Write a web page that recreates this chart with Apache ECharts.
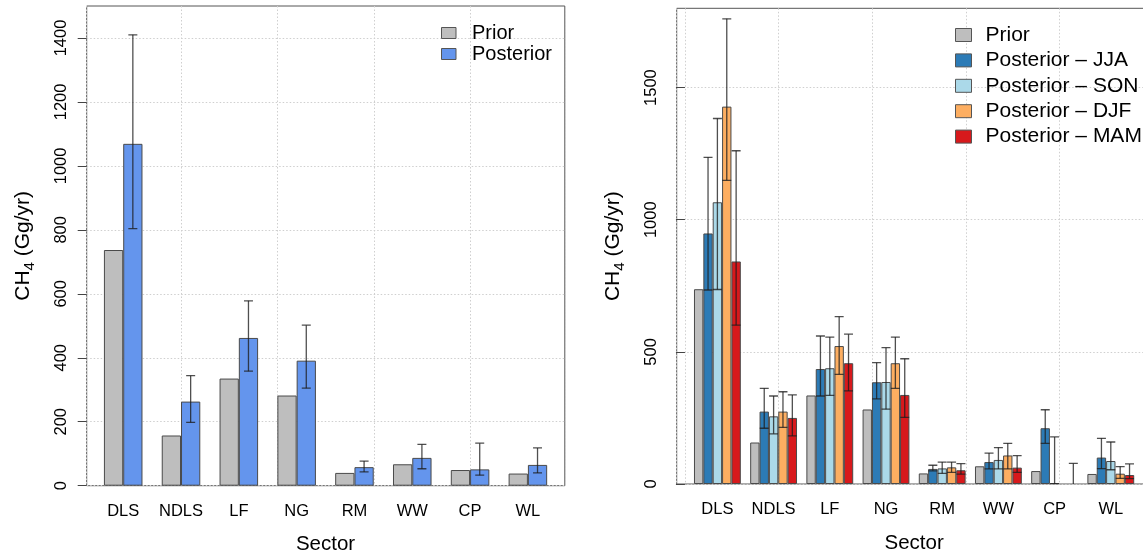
<!DOCTYPE html>
<html>
<head>
<meta charset="utf-8">
<script src="https://cdn.jsdelivr.net/npm/echarts@6/dist/echarts.min.js"></script>
<style>
html,body{margin:0;padding:0;background:#fff;}
#c{width:1143px;height:558px;}
</style>
</head>
<body>
<div id="c"></div>
<script>
// ---------- data ----------
const categories = ['DLS','NDLS','LF','NG','RM','WW','CP','WL'];

// left panel
const prior      = [737, 157, 335, 282, 40, 67, 49, 38];
const posterior  = [1069, 263, 462, 391, 58, 87, 51, 65];
const postLow    = [804, 198, 358, 305, 43, 53, 33, 40];
const postHigh   = [1410, 344, 578, 502, 77, 129, 133, 118];
const leftTicks  = [0, 200, 400, 600, 800, 1000, 1200, 1400];

// right panel
const jja     = [948, 274, 435, 385, 57, 83, 211, 100];
const jjaLow  = [734, 211, 333, 322, 50, 57, 154, 58];
const jjaHigh = [1236, 362, 560, 459, 71, 117, 281, 173];
const son     = [1066, 256, 438, 386, 59, 91, 3, 87];
const sonLow  = [736, 190, 335, 283, 40, 57, 0, 54];
const sonHigh = [1383, 333, 556, 516, 83, 138, 178, 159];
const djf     = [1428, 274, 522, 457, 63, 108, -2, 39];
const djfLow  = [1149, 214, 415, 362, 44, 57, -2, 21];
const djfHigh = [1760, 349, 633, 556, 83, 154, -2, 66];
const mam     = [842, 250, 457, 337, 52, 62, -2, 34];
const mamLow  = [601, 182, 352, 252, 37, 44, -2, 20];
const mamHigh = [1261, 337, 567, 474, 77, 107, 78, 76];
const rightTicks = [0, 500, 1000, 1500];

const seasonNames = ['Posterior \u2013 JJA','Posterior \u2013 SON','Posterior \u2013 DJF','Posterior \u2013 MAM'];

// ---------- styles ----------
const FONT = "'Liberation Sans', Arial, Helvetica, sans-serif";
const C_PRIOR = '#BEBEBE', C_POST = '#6495ED';
const C_JJA = '#2C7BB6', C_SON = '#ABD9E9', C_DJF = '#FDAE61', C_MAM = '#D7191C';
const BORDER = '#4a4a4a';
const GRIDC = '#CFCFCF';
const ERRC = 'rgba(30,30,30,0.78)';

function errData(lo, hi){ return categories.map((c,i)=>[i, lo[i], hi[i]]); }

function errRender(nSeries, k){
  return function(params, api){
    const cat = api.value(0), lo = api.value(1), hi = api.value(2);
    if (hi === lo) return null;
    const band = api.size([1,0])[0];
    const bw = band / (nSeries + 1);
    const cx = api.coord([cat, 0])[0] + (k - (nSeries - 1) / 2) * bw;
    const yl = api.coord([cat, lo])[1];
    const yh = api.coord([cat, hi])[1];
    const h = 4.5;
    const st = {stroke: ERRC, lineWidth: 1.3};
    return {type:'group', children:[
      {type:'line', shape:{x1:cx, y1:yl, x2:cx, y2:yh}, style:st},
      {type:'line', shape:{x1:cx-h, y1:yh, x2:cx+h, y2:yh}, style:st},
      {type:'line', shape:{x1:cx-h, y1:yl, x2:cx+h, y2:yl}, style:st}
    ]};
  };
}

function barSeries(name, data, color, xi, yi, w){
  return {type:'bar', name:name, data:data, xAxisIndex:xi, yAxisIndex:yi,
    barWidth:w, barGap:'0%', itemStyle:{color:color, borderColor:BORDER, borderWidth:1},
    emphasis:{disabled:true}, animation:false};
}
function errSeries(lo, hi, n, k, xi, yi){
  return {type:'custom', name:'err', data:errData(lo,hi), xAxisIndex:xi, yAxisIndex:yi,
    renderItem:errRender(n,k), encode:{x:0, y:[1,2]}, clip:true, silent:true, animation:false, z:5};
}

// ---------- geometry (R barplot layout) ----------
const L_TOP = 6, L_H = 479.7;
const R_TOP = 8.3, R_H = 475.7;

const yTitle = {
  name:'CH{sub|4} (Gg/yr)', nameLocation:'middle', nameRotate:90,
  nameTextStyle:{fontFamily:FONT, fontSize:21, color:'#000',
    rich:{sub:{fontFamily:FONT, fontSize:15, color:'#000', lineHeight:15, padding:[10,0,0,0], verticalAlign:'top'}}}
};

const dotted = {color:GRIDC, type:[1.5,2], width:1};

function frameY(max, interval, ticks, gridIndex){
  return Object.assign({
    type:'value', gridIndex:gridIndex, min:0, max:max, interval:interval, nameGap:53,
    axisLine:{show:false},
    axisTick:{show:true, length:9, inside:false, lineStyle:{color:'#444', width:1}, customValues:ticks},
    axisLabel:{show:true, rotate:90, margin:17, fontFamily:FONT, fontSize:16.5, color:'#000', customValues:ticks,
      formatter:function(v){ return String(v); }},
    splitLine:{show:true, lineStyle:dotted}
  }, yTitle);
}
function frameX(min, max, gridIndex){
  return {type:'value', gridIndex:gridIndex, min:min, max:max,
    axisLine:{show:false}, axisTick:{show:false}, axisLabel:{show:false},
    splitLine:{show:true, lineStyle:dotted}};
}
function catX(gridIndex){
  return {type:'category', gridIndex:gridIndex, data:categories,
    name:'Sector', nameLocation:'middle', nameGap:48.5,
    nameTextStyle:{fontFamily:FONT, fontSize:20.5, color:'#000'},
    axisLine:{show:false}, axisTick:{show:false},
    axisLabel:{interval:0, margin:17, fontFamily:FONT, fontSize:16.5, color:'#000'},
    splitLine:{show:false}};
}
function hiddenY(max, gridIndex){
  return {type:'value', gridIndex:gridIndex, min:0, max:max, show:false,
    axisLine:{show:false}, axisTick:{show:false}, axisLabel:{show:false}, splitLine:{show:false}};
}

const option = {
  animation:false,
  backgroundColor:'#fff',
  textStyle:{fontFamily:FONT},
  grid:[
    {left:86.7, top:L_TOP, width:478.1, height:L_H, show:true, borderColor:'#555', borderWidth:1, backgroundColor:'transparent', containLabel:false, outerBoundsMode:'none'},
    {left:94.3, top:L_TOP, width:462.5, height:L_H, containLabel:false, outerBoundsMode:'none'},
    {left:676.7, top:R_TOP, width:475.2, height:R_H, show:true, borderColor:'#555', borderWidth:1, backgroundColor:'transparent', containLabel:false, outerBoundsMode:'none'},
    {left:689.3, top:R_TOP, width:449.6, height:R_H, containLabel:false, outerBoundsMode:'none'}
  ],
  xAxis:[ frameX(0.08, 24.92, 0), catX(1), frameX(-0.88, 49.88, 2), catX(3) ],
  yAxis:[ frameY(1500, 200, leftTicks, 0), hiddenY(1500, 1), frameY(1800, 500, rightTicks, 2), hiddenY(1800, 3) ],
  legend:[
    {left:436, top:17.5, orient:'vertical', itemGap:0, itemWidth:14.5, itemHeight:11, icon:'rect',
     data:['Prior','Posterior'],
     itemStyle:{borderColor:'#555', borderWidth:1},
     textStyle:{fontFamily:FONT, fontSize:20, color:'#000', lineHeight:21, padding:[0,0,0,11]},
     selectedMode:false},
    {left:950, top:17.3, orient:'vertical', itemGap:0, itemWidth:16, itemHeight:13, icon:'rect',
     data:['Prior'].concat(seasonNames),
     itemStyle:{borderColor:'#555', borderWidth:1},
     textStyle:{fontFamily:FONT, fontSize:21, color:'#000', lineHeight:25.4, padding:[0,0,0,9]},
     selectedMode:false}
  ],
  series:[
    barSeries('Prior', prior, C_PRIOR, 1, 1, '33.333%'),
    barSeries('Posterior', posterior, C_POST, 1, 1, '33.333%'),
    errSeries(postLow, postHigh, 2, 1, 1, 1),

    barSeries('Prior', prior, C_PRIOR, 3, 3, '16.667%'),
    barSeries(seasonNames[0], jja, C_JJA, 3, 3, '16.667%'),
    barSeries(seasonNames[1], son, C_SON, 3, 3, '16.667%'),
    barSeries(seasonNames[2], djf, C_DJF, 3, 3, '16.667%'),
    barSeries(seasonNames[3], mam, C_MAM, 3, 3, '16.667%'),
    errSeries(jjaLow, jjaHigh, 5, 1, 3, 3),
    errSeries(sonLow, sonHigh, 5, 2, 3, 3),
    errSeries(djfLow, djfHigh, 5, 3, 3, 3),
    errSeries(mamLow, mamHigh, 5, 4, 3, 3)
  ]
};

const chart = echarts.init(document.getElementById('c'), null, {renderer:'canvas'});
chart.setOption(option);
</script>
</body>
</html>
